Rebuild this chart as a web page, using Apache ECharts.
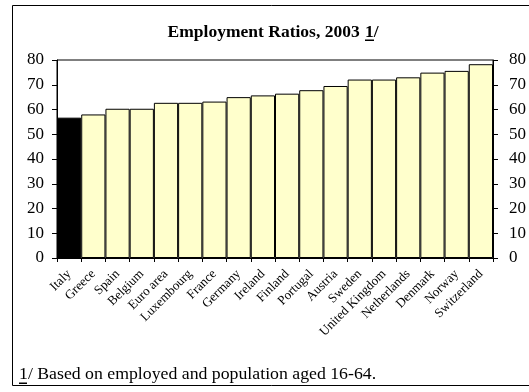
<!DOCTYPE html>
<html>
<head>
<meta charset="utf-8">
<script src="https://cdn.jsdelivr.net/npm/echarts@6/dist/echarts.min.js"></script>
<style>
  html, body { margin: 0; padding: 0; background: #fff; }
  #chart { width: 529px; height: 392px; }
</style>
</head>
<body>
<div id="chart"></div>
<script>
// Employment ratios by country, 2003 (employed / population aged 16-64, percent)
var countries = ['Italy', 'Greece', 'Spain', 'Belgium', 'Euro area', 'Luxembourg', 'France',
  'Germany', 'Ireland', 'Finland', 'Portugal', 'Austria', 'Sweden', 'United Kingdom',
  'Netherlands', 'Denmark', 'Norway', 'Switzerland'];
var ratios = [56.7, 58.0, 60.3, 60.3, 62.7, 62.7, 63.2, 65.0, 65.7, 66.4, 67.8, 69.5,
  72.1, 72.1, 73.0, 74.9, 75.6, 78.3];
var highlighted = 'Italy';
var yTicks = { min: 0, max: 80, interval: 10 };

var FONT = '"Liberation Serif", "Times New Roman", serif';

var barData = ratios.map(function (v, i) {
  return {
    value: v,
    itemStyle: { color: countries[i] === highlighted ? '#000000' : '#FFFFCC' }
  };
});

function valueAxis(position, margin) {
  return {
    type: 'value',
    position: position,
    min: yTicks.min,
    max: yTicks.max,
    interval: yTicks.interval,
    axisLine: { show: true, lineStyle: { color: '#000', width: 1 } },
    axisTick: { show: true, length: 5, lineStyle: { color: '#000' } },
    axisLabel: { color: '#000', fontFamily: FONT, fontSize: 17, margin: margin },
    splitLine: { show: false }
  };
}

var chart = echarts.init(document.getElementById('chart'), null, { renderer: 'canvas' });
chart.setOption({
  animation: false,
  backgroundColor: '#fff',
  grid: {
    left: 57, right: 35, top: 60, bottom: 134,
    show: true, borderColor: '#000', borderWidth: 1, backgroundColor: 'transparent'
  },
  xAxis: {
    type: 'category',
    data: countries,
    boundaryGap: true,
    axisLine: { show: true, lineStyle: { color: '#000' } },
    axisTick: { show: true, length: 4, lineStyle: { color: '#000' } },
    axisLabel: {
      color: '#000', fontFamily: FONT, fontSize: 13,
      rotate: 45, interval: 0, margin: 14
    }
  },
  yAxis: [valueAxis('left', 13), valueAxis('right', 16)],
  series: [{
    type: 'bar',
    data: barData,
    barWidth: '100%',
    barGap: '0%',
    itemStyle: { borderColor: '#000', borderWidth: 1 }
  }],
  graphic: [
    // outer frame
    { type: 'rect', shape: { x: 12.5, y: 5.5, width: 530, height: 380 },
      style: { fill: 'none', stroke: '#000', lineWidth: 1 }, silent: true },
    // title, with the footnote marker underlined
    { type: 'text', x: 364, y: 32,
      style: { text: 'Employment Ratios, 2003 ', font: 'bold 17.5px ' + FONT,
        fill: '#000', textAlign: 'right', textVerticalAlign: 'middle' } },
    { type: 'text', x: 365, y: 32,
      style: { text: '1/', font: 'bold 17.5px ' + FONT,
        fill: '#000', textAlign: 'left', textVerticalAlign: 'middle' } },
    { type: 'rect', shape: { x: 365, y: 39.5, width: 9, height: 1.5 },
      style: { fill: '#000' } },
    // footnote
    { type: 'text', x: 19, y: 375, scaleX: 1.11,
      style: { text: '1/ Based on employed and population aged 16-64.', font: '16px ' + FONT,
        fill: '#000', textAlign: 'left', textVerticalAlign: 'middle' } },
    { type: 'rect', shape: { x: 19, y: 382.5, width: 8, height: 1.5 },
      style: { fill: '#000' } }
  ]
});
</script>
</body>
</html>
